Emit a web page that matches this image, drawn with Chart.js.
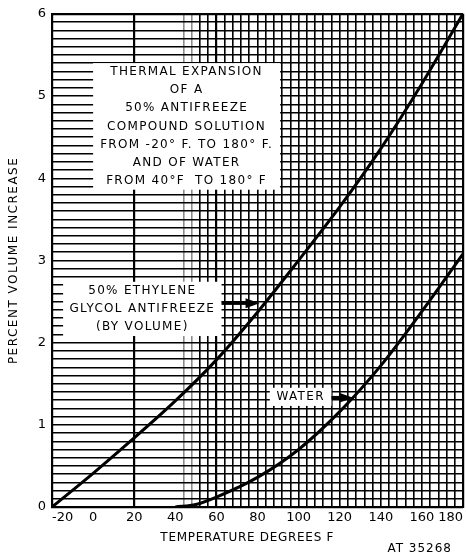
<!DOCTYPE html>
<html>
<head>
<meta charset="utf-8">
<script src="https://cdn.jsdelivr.net/npm/chart.js@4"></script>
<style>
  html, body { margin: 0; padding: 0; background: #fff; }
  canvas { display: block; }
</style>
</head>
<body>
<canvas id="chart" width="466" height="556"></canvas>
<script>
const glycolTemps = [-20, 0, 20, 40, 60, 80, 100, 120, 140, 160, 180];
const glycolPct   = [0, 0.41, 0.84, 1.29, 1.79, 2.37, 3.0, 3.65, 4.36, 5.15, 6.0];
const waterTemps  = [40, 50, 60, 80, 100, 120, 140, 160, 180];
const waterPct    = [0, 0.03, 0.12, 0.36, 0.70, 1.16, 1.72, 2.38, 3.08];

const xLabelTicks = [-20, 0, 20, 40, 60, 80, 100, 120, 140, 160, 180];
const yLabelTicks = [0, 1, 2, 3, 4, 5, 6];

const titleLines = ['THERMAL EXPANSION', 'OF A', '50% ANTIFREEZE', 'COMPOUND SOLUTION',
  'FROM -20° F. TO 180° F.', 'AND OF WATER', 'FROM 40°F  TO 180° F'];
const glycolLines = ['50% ETHYLENE', 'GLYCOL ANTIFREEZE', '(BY VOLUME)'];
const waterLines = ['WATER'];
const xTitle = 'TEMPERATURE DEGREES F';
const yTitle = 'PERCENT VOLUME INCREASE';
const figureId = 'AT 35268';

const FONT = "'DejaVu Sans', sans-serif";

// label boxes in data units (°F, %)
const boxes = [
  { x0: 0, x1: 91, y0: 3.86, y1: 5.40, lines: titleLines },
  { x0: -14.6, x1: 62.5, y0: 2.08, y1: 2.74, lines: glycolLines },
  { x0: 86, x1: 116, y0: 1.23, y1: 1.45, lines: waterLines }
];
const arrows = [
  { x0: 62.5, x1: 81, y: 2.48 },
  { x0: 116, x1: 126.5, y: 1.33 }
];

const toPts = (xs, ys) => xs.map((x, i) => ({ x, y: ys[i] }));
const isInt = v => Math.abs(v - Math.round(v)) < 1e-6;

const labelsPlugin = {
  id: 'labels',
  beforeDatasetsDraw(chart) {
    const { ctx, scales: { x, y } } = chart;
    ctx.save();
    boxes.forEach(b => {
      const l = x.getPixelForValue(b.x0), r = x.getPixelForValue(b.x1);
      const t = y.getPixelForValue(b.y1), btm = y.getPixelForValue(b.y0);
      ctx.fillStyle = '#fff';
      ctx.fillRect(l, t, r - l, btm - t);
      ctx.fillStyle = '#000';
      ctx.font = '12px ' + FONT;
      ctx.letterSpacing = '1.3px';
      ctx.textAlign = 'center';
      ctx.textBaseline = 'middle';
      const lh = (btm - t) / b.lines.length;
      b.lines.forEach((s, i) => ctx.fillText(s, (l + r) / 2, t + lh * (i + 0.5)));
    });
    ctx.restore();
  },
  afterDatasetsDraw(chart) {
    const { ctx, chartArea, scales: { x, y } } = chart;
    ctx.save();
    ctx.fillStyle = '#000';
    ctx.strokeStyle = '#000';
    arrows.forEach(a => {
      const x0 = x.getPixelForValue(a.x0), x1 = x.getPixelForValue(a.x1), py = y.getPixelForValue(a.y);
      ctx.lineWidth = 3.5;
      ctx.beginPath();
      ctx.moveTo(x0, py);
      ctx.lineTo(x1 - 12, py);
      ctx.stroke();
      ctx.beginPath();
      ctx.moveTo(x1, py);
      ctx.lineTo(x1 - 14, py - 5);
      ctx.lineTo(x1 - 14, py + 5);
      ctx.closePath();
      ctx.fill();
    });

    // axis titles, spaced out like the scan
    ctx.font = '12px ' + FONT;
    ctx.letterSpacing = '0.7px';
    ctx.textAlign = 'center';
    ctx.textBaseline = 'middle';
    ctx.fillText(xTitle, x.getPixelForValue(75), 538);
    ctx.letterSpacing = '1.5px';
    ctx.save();
    ctx.translate(14, (chartArea.top + chartArea.bottom) / 2);
    ctx.rotate(-Math.PI / 2);
    ctx.fillText(yTitle, 0, 0);
    ctx.restore();

    ctx.letterSpacing = '1px';
    ctx.textAlign = 'right';
    ctx.fillText(figureId, 452, 549);
    ctx.restore();
  }
};

new Chart(document.getElementById('chart'), {
  type: 'scatter',
  data: {
    datasets: [
      { label: '50% Ethylene Glycol', data: toPts(glycolTemps, glycolPct) },
      { label: 'Water', data: toPts(waterTemps, waterPct) }
    ]
  },
  options: {
    responsive: false,
    animation: false,
    showLine: true,
    layout: { padding: { left: 0, top: 10, right: 3, bottom: 0 } },
    elements: {
      point: { radius: 0 },
      line: { borderColor: '#000', borderWidth: 3, cubicInterpolationMode: 'monotone' }
    },
    plugins: { legend: { display: false }, tooltip: { enabled: false } },
    scales: {
      x: {
        type: 'linear', min: -20, max: 180,
        afterFit: s => { s.height = 49; },
        ticks: {
          stepSize: 4, autoSkip: false, maxRotation: 0, align: 'inner', padding: 3,
          color: '#000', font: { family: FONT, size: 13 },
          callback: v => xLabelTicks.includes(v) ? String(v) : ''
        },
        grid: {
          drawTicks: false,
          color: c => {
            const v = c.tick && c.tick.value;
            if (v >= 52 || v === 20 || v === -20) return '#000';
            if (v === 44 || v === 48) return 'rgba(0,0,0,0.45)';
            return 'rgba(0,0,0,0)';
          },
          lineWidth: c => {
            const v = c.tick && c.tick.value;
            return (v === 20 || v === 60 || v === 180 || v === -20) ? 2.2 : 1.6;
          }
        },
        border: { color: '#000', width: 2 }
      },
      y: {
        min: 0, max: 6,
        afterFit: s => { s.width = 52; },
        ticks: {
          stepSize: 0.1, autoSkip: false, padding: 6,
          color: '#000', font: { family: FONT, size: 13 },
          callback: v => (isInt(v) && yLabelTicks.includes(Math.round(v))) ? String(Math.round(v)) : ''
        },
        grid: {
          drawTicks: false, color: '#000',
          lineWidth: c => {
            const v = c.tick && c.tick.value;
            return (isInt(v) && (Math.round(v) === 6 || Math.round(v) === 0)) ? 2.2 : 1.4;
          }
        },
        border: { color: '#000', width: 2 }
      }
    }
  },
  plugins: [labelsPlugin]
});
</script>
</body>
</html>
